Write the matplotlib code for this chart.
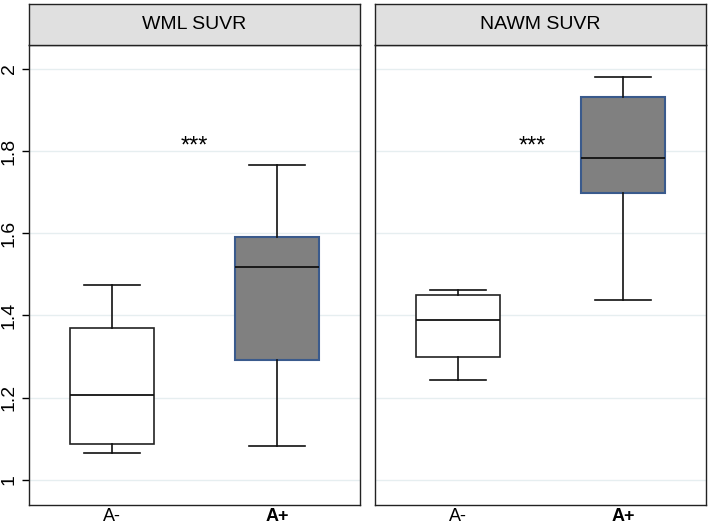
import matplotlib
matplotlib.use("Agg")
import matplotlib.pyplot as plt

plt.rcParams['font.family'] = ['Liberation Sans', 'DejaVu Sans']

panels = ["WML SUVR", "NAWM SUVR"]
groups = ["A-", "A+"]

# box stats: whislo, q1, median, q3, whishi
wml_neg = [1.066, 1.088, 1.207, 1.370, 1.473]
wml_pos = [1.083, 1.292, 1.519, 1.590, 1.766]
nawm_neg = [1.243, 1.300, 1.388, 1.450, 1.462]
nawm_pos = [1.438, 1.699, 1.784, 1.931, 1.981]

yticks = [1, 1.2, 1.4, 1.6, 1.8, 2]
star_y = 1.81
star_x = [1.5, 1.45]

data = [[wml_neg, wml_pos], [nawm_neg, nawm_pos]]

fig = plt.figure(figsize=(7.12, 5.26), dpi=100)

lefts = [29 / 712, 375 / 712]
w = 331 / 712
bottom = 1 - 505 / 526
h = (505 - 45) / 526
head_h = 41 / 526

for i, name in enumerate(panels):
    ax = fig.add_axes([lefts[i], bottom, w, h])
    hx = fig.add_axes([lefts[i], bottom + h, w, head_h])
    hx.set_facecolor('#e0e0e0')
    hx.set_xticks([]); hx.set_yticks([])
    for s in hx.spines.values():
        s.set_linewidth(1.0)
        s.set_color('#222222')
    hx.text(0.5, 0.5, name, ha='center', va='center', fontsize=14)

    stats = []
    for g, v in zip(groups, data[i]):
        stats.append(dict(label=g, whislo=v[0], q1=v[1], med=v[2], q3=v[3], whishi=v[4], fliers=[]))

    bp = ax.bxp(stats, positions=[1, 2], widths=0.51, patch_artist=True, showfliers=False,
                medianprops=dict(color='#111111', linewidth=1.3),
                whiskerprops=dict(color='#111111', linewidth=1.2),
                capprops=dict(color='#111111', linewidth=1.2),
                capwidths=0.34)
    bp['boxes'][0].set_facecolor('white')
    bp['boxes'][0].set_edgecolor('#222222')
    bp['boxes'][0].set_linewidth(1.2)
    bp['boxes'][1].set_facecolor('#808080')
    bp['boxes'][1].set_edgecolor('#3a5a8c')
    bp['boxes'][1].set_linewidth(1.5)

    ax.set_xlim(0.5, 2.5)
    ax.set_ylim(0.939, 2.058)
    ax.set_yticks(yticks)
    ax.yaxis.grid(True, color='#e6eef0', linewidth=1)
    ax.set_axisbelow(True)
    ax.set_xticks([1, 2])
    ax.set_xticklabels(groups, fontsize=13)
    ax.get_xticklabels()[1].set_fontweight('bold')
    ax.tick_params(axis='x', length=0, pad=2)
    if i == 0:
        ax.set_yticklabels([f"{t:g}" for t in yticks], rotation=90, va='center', fontsize=14)
        ax.tick_params(axis='y', length=5, width=1, pad=3)
    else:
        ax.tick_params(axis='y', length=0, labelleft=False)
    for s in ax.spines.values():
        s.set_linewidth(1.0)
        s.set_color('#222222')

    ax.text(star_x[i], star_y, "***", ha='center', va='center', fontsize=17)

fig.savefig("out.png", dpi=100)
